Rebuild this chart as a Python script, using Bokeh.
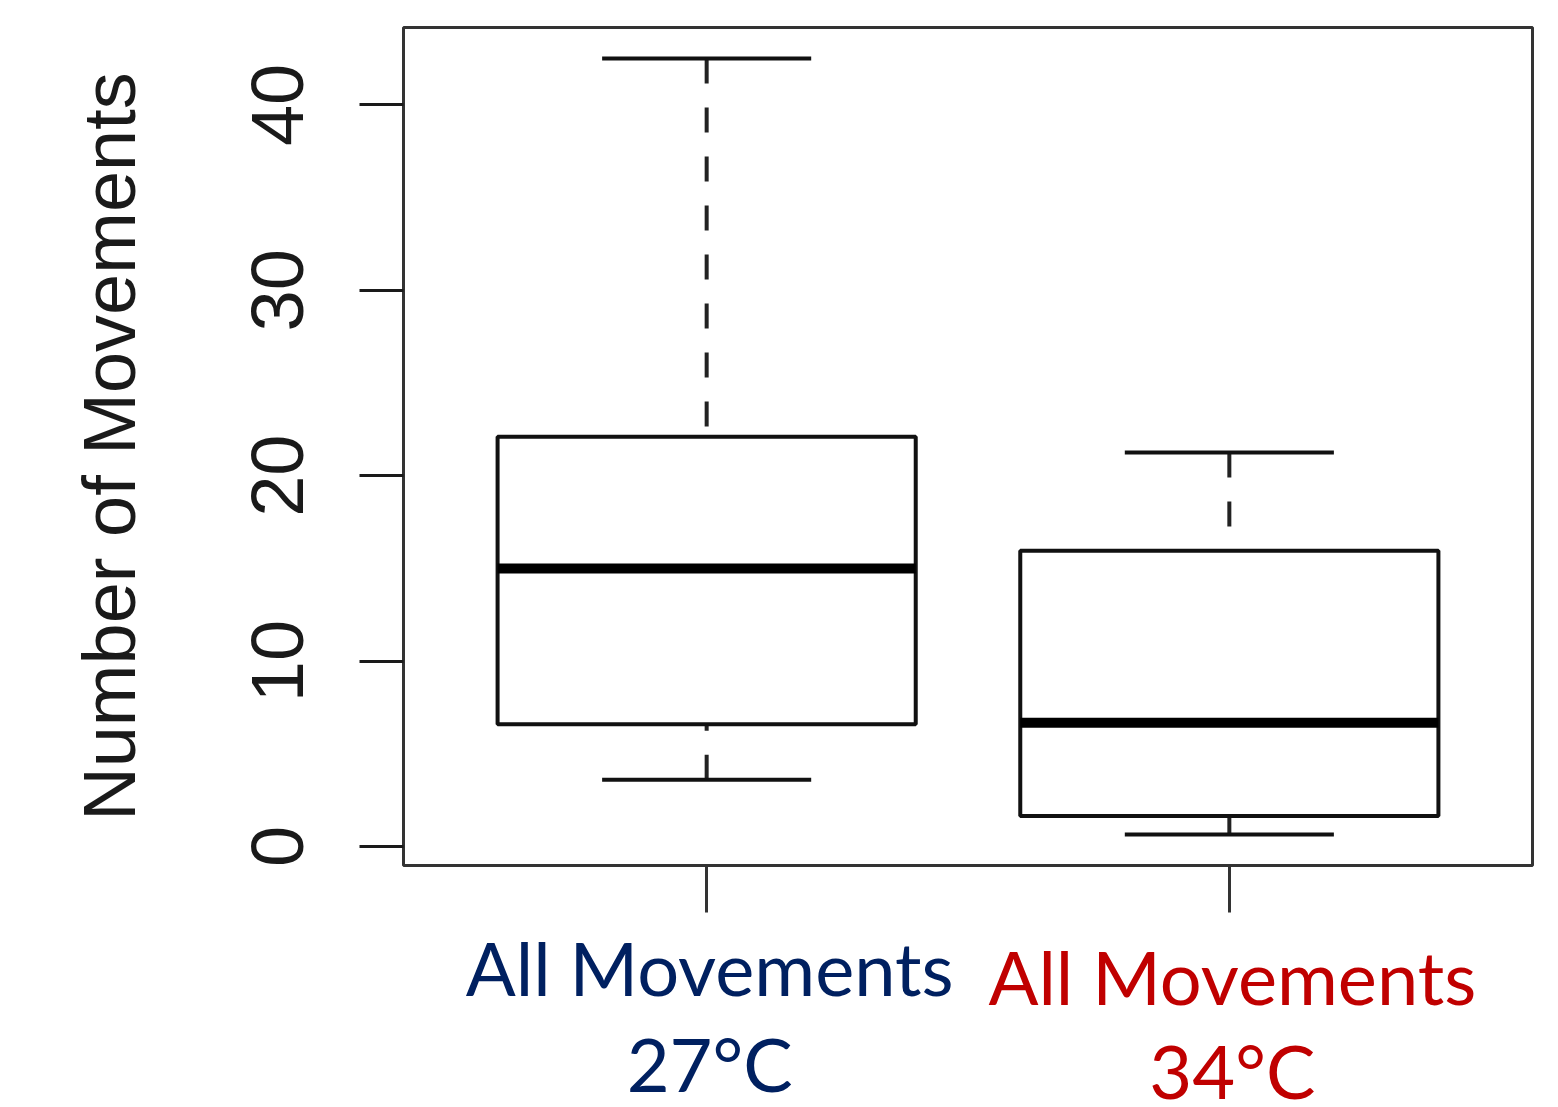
from bokeh.plotting import figure
from bokeh.models import Range1d, FixedTicker, ColumnDataSource
from bokeh.layouts import column
from bokeh.core.properties import value
from bokeh.embed import file_html
from bokeh.resources import INLINE

# ---- data ----
groups = ["All Movements 27°C", "All Movements 34°C"]
label_line1 = ["All Movements", "All Movements"]
label_line2 = ["27°C", "34°C"]
label_colors = ["#002060", "#C00000"]
positions = [1, 2]
whisker_low = [3.6, 0.65]
q1 = [6.6, 1.65]
median = [15.0, 6.67]
q3 = [22.1, 15.95]
whisker_high = [42.5, 21.25]
y_ticks = [0, 10, 20, 30, 40]

# R-style axis limits (4% extension)
lo, hi = min(whisker_low), max(whisker_high)
pad = 0.04 * (hi - lo)
xpad = 0.04 * len(groups)

W = 1550
H_MAIN = 915
H_LAB = 192
LEFT, RIGHT = 403, 18

xr_shared = Range1d(0.5 - xpad, len(groups) + 0.5 + xpad)

p = figure(width=W, height=H_MAIN, output_backend="svg", toolbar_location=None,
           x_range=xr_shared, y_range=Range1d(lo - pad, hi + pad),
           min_border_left=LEFT, min_border_right=RIGHT,
           min_border_top=27, min_border_bottom=50)
p.grid.visible = False
p.background_fill_color = "white"
p.border_fill_color = "white"
p.outline_line_color = "#333333"
p.outline_line_width = 3

box_w = 0.8
cap_w = 0.4
xl = [x - box_w / 2 for x in positions]
xr = [x + box_w / 2 for x in positions]
cl = [x - cap_w / 2 for x in positions]
cr = [x + cap_w / 2 for x in positions]

# whiskers (dashed, drawn from whisker end toward box)
p.segment(x0=positions, y0=whisker_high, x1=positions, y1=q3,
          line_color="#222222", line_width=4, line_dash="25 24")
p.segment(x0=positions, y0=whisker_low, x1=positions, y1=q1,
          line_color="#222222", line_width=4, line_dash="25 24")
# caps
p.segment(x0=cl, y0=whisker_high, x1=cr, y1=whisker_high, line_color="#111111", line_width=4)
p.segment(x0=cl, y0=whisker_low, x1=cr, y1=whisker_low, line_color="#111111", line_width=4)
# boxes
p.quad(left=xl, right=xr, bottom=q1, top=q3, fill_color="white",
       line_color="#111111", line_width=4)
# medians
p.segment(x0=xl, y0=median, x1=xr, y1=median, line_color="black", line_width=10)

# y axis
ya = p.yaxis[0]
ya.ticker = FixedTicker(ticks=y_ticks)
ya.axis_line_color = None
ya.major_tick_out = 44
ya.major_tick_in = 0
ya.minor_tick_out = 0
ya.minor_tick_in = 0
ya.major_tick_line_color = "#1a1a1a"
ya.major_tick_line_width = 3
ya.major_label_orientation = "vertical"
ya.major_label_text_font = "Liberation Sans"
ya.major_label_text_font_size = "74px"
ya.major_label_text_color = "#1a1a1a"
ya.major_label_standoff = 56
ya.axis_label = "Number of Movements"
ya.axis_label_text_font = "Liberation Sans"
ya.axis_label_text_font_size = "74px"
ya.axis_label_text_font_style = "normal"
ya.axis_label_text_color = "#1a1a1a"
ya.axis_label_standoff = 99

# x axis
xa = p.xaxis[0]
xa.ticker = FixedTicker(ticks=positions)
xa.axis_line_color = None
xa.major_tick_out = 47
xa.major_tick_in = 0
xa.minor_tick_out = 0
xa.major_tick_line_color = "#333333"
xa.major_tick_line_width = 3
xa.major_label_overrides = {pos: "" for pos in positions}
xa.major_label_text_font_size = "1px"
xa.major_label_standoff = 0

# ---- label strip below: coloured two-line category labels ----
q = figure(width=W, height=H_LAB, output_backend="svg", toolbar_location=None,
           x_range=xr_shared, y_range=Range1d(H_LAB, 0),
           min_border_left=LEFT, min_border_right=RIGHT,
           min_border_top=0, min_border_bottom=0)
q.axis.visible = False
q.grid.visible = False
q.outline_line_color = None
q.background_fill_color = "white"
q.border_fill_color = "white"

base1 = [52, 61]     # baseline of first line (px from top of strip)
base2 = [148, 155]   # baseline of second line
src1 = ColumnDataSource(dict(x=positions, y=base1, t=label_line1, c=label_colors))
src2 = ColumnDataSource(dict(x=positions, y=base2, t=label_line2, c=label_colors))
for src in (src1, src2):
    q.text(x="x", y="y", text="t", source=src, text_color="c",
           text_font=value("Lato"), text_font_size="74px",
           text_align="center", text_baseline="alphabetic", x_offset=3)

layout = column(p, q, spacing=0)
open("out.html", "w").write(file_html(layout, INLINE))
